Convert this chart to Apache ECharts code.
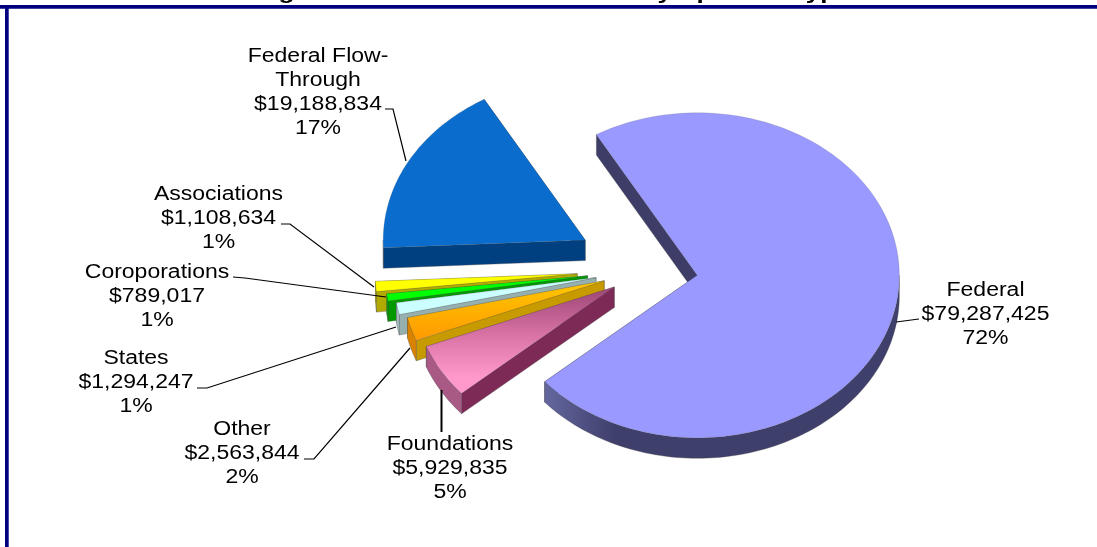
<!DOCTYPE html>
<html>
<head>
<meta charset="utf-8">
<style>html,body{margin:0;padding:0;background:#fff;overflow:hidden}#chart{width:1097px;height:547px}</style>
<script src="https://cdn.jsdelivr.net/npm/echarts@6/dist/echarts.min.js"></script>
</head>
<body>
<div id="chart"></div>
<script>
// ---- data ----
var titleText = 'Figure 5: Total Funded Awards by Sponsor Type';
var categories = ['Federal Flow-\nThrough', 'Associations', 'Coroporations', 'States', 'Other', 'Foundations', 'Federal'];
var amounts = [19188834, 1108634, 789017, 1294247, 2563844, 5929835, 79287425];

// ---- pie geometry (layout) ----
var PIE = {cx: 651, cy: 269, rx: 202, ry: 162.5, depth: 20.5};
var sliceEnd = 330;           // clockwise degrees from 12 o'clock where the first slice ends
var explode = [75, 74, 64, 56, 49, 43, 47];

// ---- slice styles ----
var topFill = [
  '#0a6dcd', '#ffff00', '#00ff00', '#ccffff',
  [[0, '#ffc800'], [1, '#ff9900']],
  [[0, '#9c4676'], [0.45, '#d972a5'], [0.85, '#ff99cc'], [1, '#ff99cc']],
  '#9999ff'
];
var cutFill = ['#003f80', '#b3aa00', '#009900', '#96b0b0', '#c79a00', '#7d2a57', '#3d3d68'];
var rimFill = ['#003f80', '#c9c100', '#00a800', '#a6bfbf', '#d98200', '#a85a85',
  [[0, '#64679f'], [0.2, '#3f3f6b'], [1, '#3f3f6b']]];

// ---- label layout: centre of the text block, leader polyline ----
var labelAt = [
  {x: 318, y: 92,  line: [[385, 109], [393, 109], [406, 161]]},
  {x: 218.5, y: 218, line: [[281, 224], [290, 224], [374, 287]]},
  {x: 157, y: 296, line: [[233, 277], [245, 278], [386, 297]]},
  {x: 136, y: 382, line: [[197, 388], [207, 388], [396, 327]]},
  {x: 242, y: 453, line: [[304, 459], [314, 459], [410, 348]]},
  {x: 450, y: 468, line: [[441.5, 432], [441.5, 390]], w: 2},
  {x: 985.5, y: 314, line: [[919, 319], [896, 322]]}
];

var total = amounts.reduce(function (a, b) { return a + b; }, 0);

function paint(f) {
  if (typeof f === 'string') return f;
  return new echarts.graphic.LinearGradient(0, 0, f === rimFill[6] ? 1 : 0, f === rimFill[6] ? 0 : 1,
    f.map(function (s) { return {offset: s[0], color: s[1]}; }));
}
function sweepRange(i) {
  var before = 0;
  for (var k = 0; k < i; k++) before += amounts[k];
  var a1 = sliceEnd - before / total * 360;
  var a0 = a1 - amounts[i] / total * 360;
  return [a0, a1];
}
function pt(c, deg, dy) {
  var r = deg * Math.PI / 180;
  return [c[0] + PIE.rx * Math.sin(r), c[1] - PIE.ry * Math.cos(r) + (dy || 0)];
}
function renderSlice(params, api) {
  var i = params.dataIndex;
  var rng = sweepRange(i), a0 = rng[0], a1 = rng[1];
  var mid = (a0 + a1) / 2 * Math.PI / 180;
  var c = [PIE.cx + explode[i] * Math.sin(mid), PIE.cy - explode[i] * Math.cos(mid) * PIE.ry / PIE.rx];
  var d = PIE.depth, kids = [];
  var edge = 'rgba(70,70,70,0.55)';

  function wall(deg) {
    var p = pt(c, deg);
    kids.push({type: 'polygon', shape: {points: [c, p, [p[0], p[1] + d], [c[0], c[1] + d]]},
      style: {fill: cutFill[i], stroke: edge, lineWidth: 0.6}});
  }
  wall(a1);
  wall(a0);

  // outer rim: only the part facing the viewer (90..270 degrees, also after wrapping)
  var rs = Math.max(a0, 90), re = Math.min(a1, 270);
  if (re > rs) {
    var upper = [], lower = [];
    for (var t = rs; t < re; t += 1.5) { upper.push(pt(c, t)); lower.unshift(pt(c, t, d)); }
    upper.push(pt(c, re)); lower.unshift(pt(c, re, d));
    kids.push({type: 'polygon', shape: {points: upper.concat(lower)},
      style: {fill: paint(rimFill[i]), stroke: edge, lineWidth: 0.6}});
  }
  var surface = [c];
  for (var u = a0; u < a1; u += 1.5) surface.push(pt(c, u));
  surface.push(pt(c, a1));
  kids.push({type: 'polygon', shape: {points: surface},
    style: {fill: paint(topFill[i]), stroke: 'rgba(90,90,90,0.35)', lineWidth: 0.5}});
  return {type: 'group', children: kids};
}
function fmtMoney(v) { return '$' + String(Math.round(v)).replace(/\B(?=(\d{3})+(?!\d))/g, ','); }
function renderLabel(params, api) {
  var i = params.dataIndex, at = labelAt[i];
  var v = api.value(0);
  var txt = categories[i] + '\n' + fmtMoney(v) + '\n' + Math.round(v / total * 100) + '%';
  return {type: 'group', children: [
    {type: 'polyline', shape: {points: at.line}, style: {fill: null, stroke: '#000', lineWidth: at.w || 1.2}},
    {type: 'text', x: at.x, y: at.y, scaleX: 1.15,
      style: {text: txt, fill: '#000', font: '20px "Liberation Sans", Arial, sans-serif',
        lineHeight: 24, align: 'center', verticalAlign: 'middle'}}
  ]};
}

var chart = echarts.init(document.getElementById('chart'));
chart.setOption({
  animation: false,
  backgroundColor: '#ffffff',
  graphic: [
    {type: 'text', x: 553, y: -17, scaleX: 1.3, z: 1,
      style: {text: titleText, fill: '#000', font: 'bold 20px "Liberation Sans", Arial, sans-serif',
        align: 'center', verticalAlign: 'top'}},
    {type: 'rect', z: 2, shape: {x: 0, y: 5, width: 1097, height: 3.7}, style: {fill: '#000080'}},
    {type: 'rect', z: 2, shape: {x: 5, y: 5, width: 3.7, height: 542}, style: {fill: '#000080'}}
  ],
  series: [
    {type: 'custom', name: 'Awards', coordinateSystem: 'none', renderItem: renderSlice,
      data: amounts.map(function (v, i) { return {name: categories[i], value: [v]}; }), silent: true, z: 3},
    {type: 'custom', name: 'Labels', coordinateSystem: 'none', renderItem: renderLabel,
      data: amounts.map(function (v, i) { return {name: categories[i], value: [v]}; }), silent: true, z: 4}
  ]
});
</script>
</body>
</html>
